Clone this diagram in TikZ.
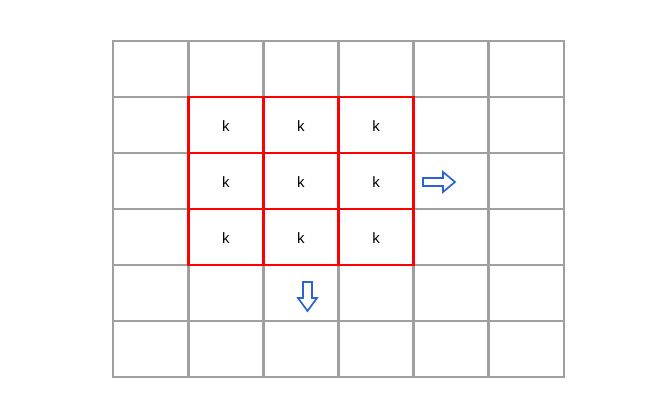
\documentclass[tikz,border=0pt]{standalone}
\usepackage{fontspec}
\setmainfont{Liberation Sans}
\definecolor{gridgray}{HTML}{A0A0A0}
\definecolor{arrowblue}{HTML}{2B62D6}
\tikzset{
  gridline/.style={draw=gridgray,line width=2.8pt,line cap=rect},
  kernel/.style={draw=red,line width=2.8pt,line cap=rect},
  kcell/.style={font=\fontsize{15}{15}\selectfont},
  movearrow/.style={draw=arrowblue,line width=1.7pt,fill=white,line join=miter}
}
\begin{document}
\begin{tikzpicture}[x=1pt,y=-1pt]
	\useasboundingbox (0,0) rectangle (653,404);
	% outer grid
	\foreach \i in {0,...,6}
		\draw[gridline] (113+75.17*\i,41) -- (113+75.17*\i,377);
	\foreach \j in {0,...,6}
		\draw[gridline] (113,41+56*\j) -- (564,41+56*\j);
	% kernel window
	\foreach \i in {0,...,3}
		\draw[kernel] (188.17+75.17*\i,97) -- (188.17+75.17*\i,265);
	\foreach \j in {0,...,3}
		\draw[kernel] (188.17,97+56*\j) -- (413.67,97+56*\j);
	\foreach \i in {0,1,2}
		\foreach \j in {0,1,2}
			\node[kcell] (k\i\j) at (225.75+75.17*\i,126+56*\j) {k};
	% stride arrows
	\draw[movearrow] (423,178) -- (443,178) -- (443,172) -- (455,182)
		-- (443,192) -- (443,186) -- (423,186) -- cycle;
	\draw[movearrow] (303,282) -- (303,298) -- (298,298) -- (307.5,311)
		-- (317,298) -- (312,298) -- (312,282) -- cycle;
\end{tikzpicture}
\end{document}
